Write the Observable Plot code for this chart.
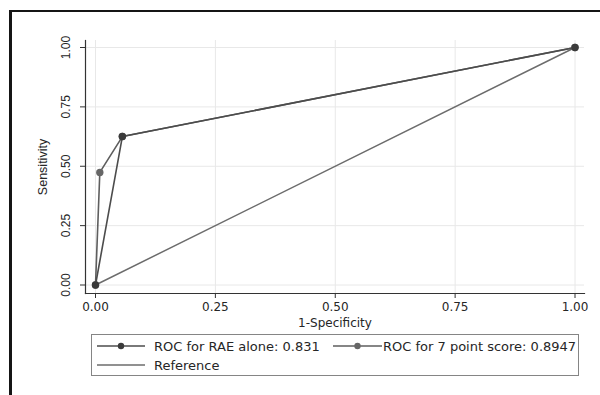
<!DOCTYPE html>
<html><head><meta charset="utf-8">
<script src="https://cdn.jsdelivr.net/npm/d3@7"></script>
<script src="https://cdn.jsdelivr.net/npm/@observablehq/plot@0.6"></script>
<style>
body{margin:0;background:#fff;}
#wrap{position:relative;width:600px;height:395px;overflow:hidden;background:#fff;font-family:"DejaVu Sans",sans-serif;}
#outer{position:absolute;left:9px;top:10px;width:620px;height:420px;border-left:3px solid #151515;border-top:2px solid #151515;}
#chart{position:absolute;left:0;top:0;}
#legend{position:absolute;left:91px;top:334px;width:488px;height:42px;box-sizing:border-box;border:1.5px solid #858585;background:#fff;}
.item{position:absolute;height:16px;display:flex;align-items:center;font-size:13px;color:#262626;white-space:nowrap;}
.item svg{display:block;}
</style>
</head><body>
<div id="wrap"><div id="outer"></div><div id="chart"></div><div id="legend"></div></div>
<script>
const ticks = [0, 0.25, 0.5, 0.75, 1];
const tickLabels = ["0.00", "0.25", "0.50", "0.75", "1.00"];
const raeFpr = [0, 0.056, 1];
const raeTpr = [0, 0.625, 1];
const sevenFpr = [0, 0.009, 0.056, 1];
const sevenTpr = [0, 0.474, 0.625, 1];
const refFpr = [0, 1];
const refTpr = [0, 1];
const seriesNames = ["ROC for RAE alone: 0.831", "ROC for 7 point score: 0.8947", "Reference"];
const xLabel = "1-Specificity";
const yLabel = "Sensitivity";

const colors = {rae: "#4c4c4c", raeDot: "#3a3a3a", seven: "#5e5e5e", sevenDot: "#666666", ref: "#6c6c6c"};
const fmt = d => tickLabels[ticks.indexOf(d)];

const chart = Plot.plot({
  width: 600, height: 330,
  marginLeft: 85, marginRight: 16, marginTop: 40, marginBottom: 37,
  x: {domain: [0, 1], range: [95, 574.5]},
  y: {domain: [0, 1], range: [284.5, 47]},
  style: {fontFamily: "DejaVu Sans", fontSize: "12px", color: "#262626", background: "transparent"},
  marks: [
    Plot.gridX(ticks, {stroke: "#e8e8e8", strokeOpacity: 1}),
    Plot.gridY(ticks, {stroke: "#e8e8e8", strokeOpacity: 1}),
    Plot.frame({anchor: "left", stroke: "#333", strokeWidth: 1.2}),
    Plot.frame({anchor: "bottom", stroke: "#333", strokeWidth: 1.2}),
    Plot.axisX(ticks, {tickFormat: fmt, tickSize: 5, tickPadding: 4, fontSize: 12, stroke: "#333",
      label: xLabel, labelAnchor: "center", labelArrow: "none", labelOffset: 33}),
    Plot.axisY(ticks, {tickFormat: fmt, tickSize: 5, tickPadding: 11, tickRotate: -90, fontSize: 12,
      fontFamily: "Liberation Sans", stroke: "#333", label: null}),
    Plot.axisY({ticks: [], tickSize: 0, label: yLabel, labelAnchor: "center", labelArrow: "none",
      labelOffset: 47, fontSize: 12.5, fontFamily: "Liberation Sans"}),
    Plot.line(refFpr, {x: refFpr, y: refTpr, stroke: colors.ref, strokeWidth: 1.5}),
    Plot.line(sevenFpr, {x: sevenFpr, y: sevenTpr, stroke: colors.seven, strokeWidth: 1.6}),
    Plot.line(raeFpr, {x: raeFpr, y: raeTpr, stroke: colors.rae, strokeWidth: 1.6}),
    Plot.dot(sevenFpr, {x: sevenFpr, y: sevenTpr, r: 3.7, fill: colors.sevenDot}),
    Plot.dot(raeFpr, {x: raeFpr, y: raeTpr, r: 3.7, fill: colors.raeDot})
  ]
});
document.getElementById("chart").appendChild(chart);

// legend
const legend = document.getElementById("legend");
function sym(color, dotColor, w) {
  let s = `<svg width="${w}" height="10"><line x1="0" y1="5" x2="${w}" y2="5" stroke="${color}" stroke-width="1.5"/>`;
  if (dotColor) s += `<circle cx="${w/2}" cy="5" r="3.2" fill="${dotColor}"/>`;
  return s + `</svg>`;
}
const items = [
  {left: 5, top: 3, html: sym(colors.rae, colors.raeDot, 48) + `<span style="margin-left:9px">${seriesNames[0]}</span>`},
  {left: 241, top: 3, html: sym(colors.seven, colors.sevenDot, 49) + `<span style="margin-left:1px">${seriesNames[1]}</span>`},
  {left: 5, top: 22, html: sym(colors.ref, null, 48) + `<span style="margin-left:9px">${seriesNames[2]}</span>`}
];
for (const it of items) {
  const d = document.createElement("div");
  d.className = "item";
  d.style.left = it.left + "px";
  d.style.top = it.top + "px";
  d.innerHTML = it.html;
  legend.appendChild(d);
}
</script>
</body></html>
